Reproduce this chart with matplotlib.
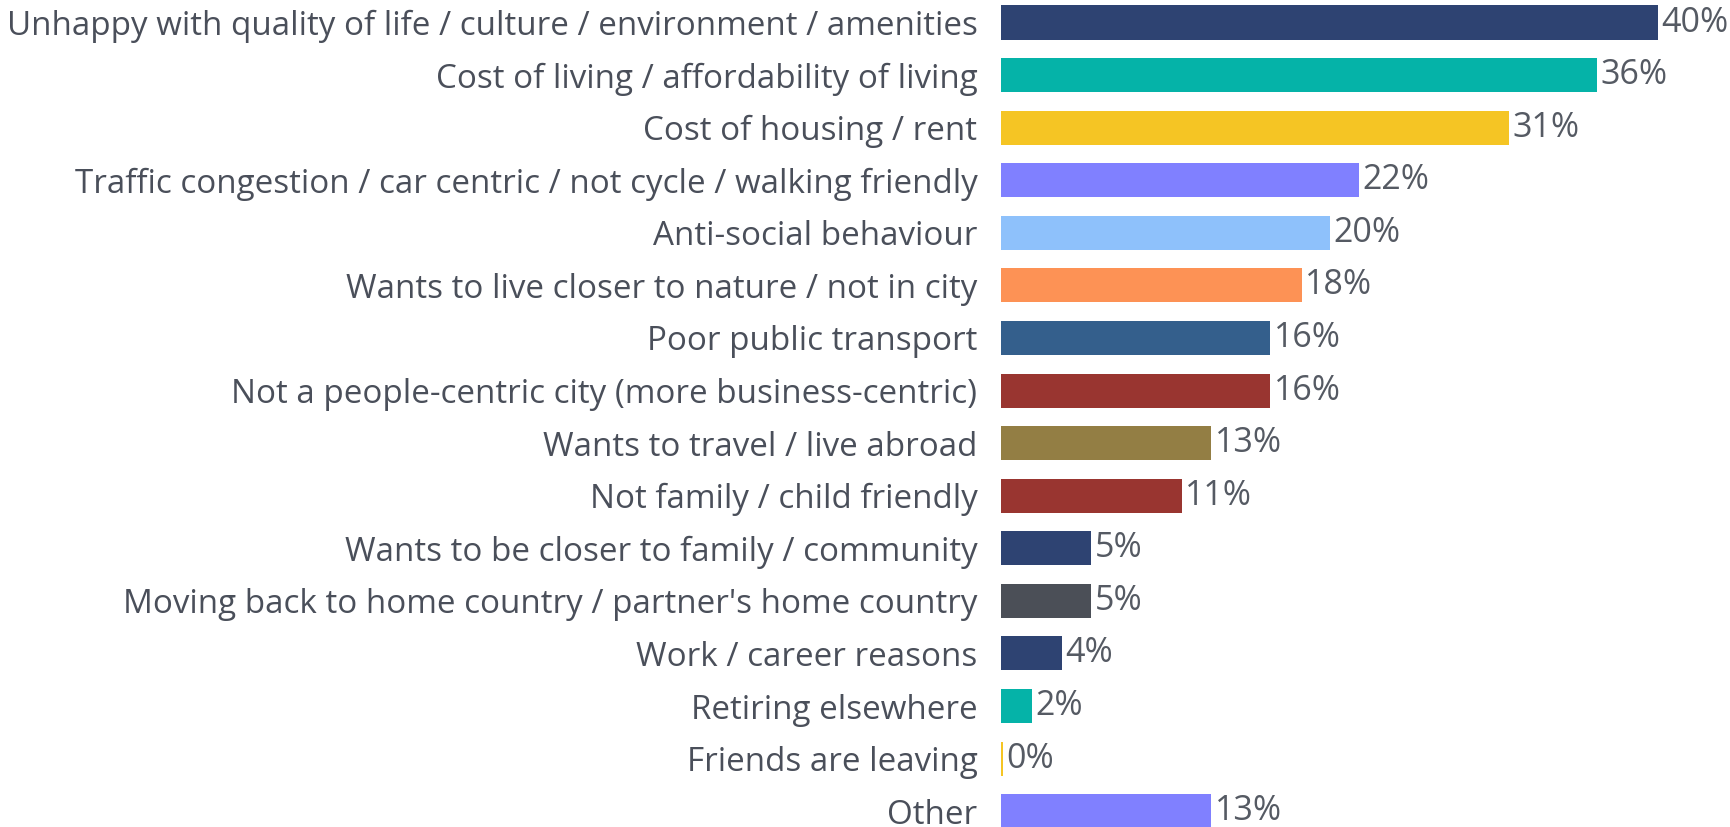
import matplotlib
matplotlib.use("Agg")
import matplotlib.pyplot as plt

categories = [
    "Unhappy with quality of life / culture / environment / amenities",
    "Cost of living / affordability of living",
    "Cost of housing / rent",
    "Traffic congestion / car centric / not cycle / walking friendly",
    "Anti-social behaviour",
    "Wants to live closer to nature / not in city",
    "Poor public transport",
    "Not a people-centric city (more business-centric)",
    "Wants to travel / live abroad",
    "Not family / child friendly",
    "Wants to be closer to family / community",
    "Moving back to home country / partner's home country",
    "Work / career reasons",
    "Retiring elsewhere",
    "Friends are leaving",
    "Other",
]
values = [40.0, 36.3, 30.9, 21.8, 20.0, 18.3, 16.4, 16.4, 12.8, 11.0, 5.5, 5.5, 3.7, 1.9, 0.1, 12.8]
value_labels = ["40%", "36%", "31%", "22%", "20%", "18%", "16%", "16%", "13%", "11%",
                "5%", "5%", "4%", "2%", "0%", "13%"]
colors = ["#2e4372", "#05b3a8", "#f5c524", "#8080ff", "#8ec1fb", "#fd9255", "#345f8c",
          "#993530", "#937e44", "#993530", "#2e4372", "#4b4f57", "#2e4372", "#05b3a8",
          "#f5c524", "#8080ff"]

W, H = 1730, 827
fig = plt.figure(figsize=(W / 100, H / 100), dpi=100)
ax = fig.add_axes([1001 / W, 0, 1 - 1001 / W, 1])

ypos = list(range(len(categories)))
ax.barh(ypos, values, height=0.647, color=colors)
ax.set_ylim(15.30, -0.428)
ax.set_xlim(0, 44.37)
ax.set_yticks(ypos)
ax.set_yticklabels(categories, fontsize=23.9, color="#4a4f5a", family="Open Sans")
ax.tick_params(axis="y", length=0, pad=17)
ax.set_xticks([])
for s in ax.spines.values():
    s.set_visible(False)

for y, v, lab in zip(ypos, values, value_labels):
    ax.text(v + 0.2, y, lab, va="center", ha="left", fontsize=24.5,
            color="#555a63", family="Open Sans")

fig.savefig("out.png", dpi=100)
